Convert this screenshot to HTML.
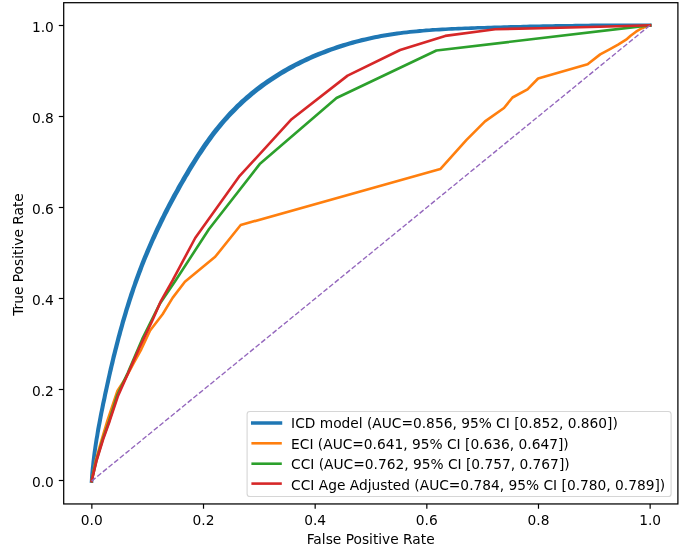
<!DOCTYPE html>
<html><head><meta charset="utf-8"><title>ROC curves</title>
<style>html,body{margin:0;padding:0;background:#fff;}body{width:679px;height:559px;overflow:hidden;}</style>
</head><body>
<svg width="679" height="559" viewBox="0 0 679 559" style="display:block">
<rect width="679" height="559" fill="#fff"/>
<g fill="none" stroke-linejoin="round" stroke-linecap="square" transform="translate(0.0,0.4)">
<polygon points="93.3,482.6 93.4,480.8 93.7,477.6 94.0,474.4 94.3,471.2 94.6,468.0 94.9,464.8 95.3,461.5 95.7,458.3 96.1,455.1 96.6,451.9 97.0,448.8 97.5,445.6 98.0,442.4 98.5,439.2 99.1,436.0 99.6,432.8 100.2,429.6 100.8,426.4 101.4,423.3 102.0,420.1 102.6,416.9 103.2,413.7 103.8,410.5 104.5,407.4 105.1,404.2 105.8,401.0 106.5,397.8 107.1,394.7 107.8,391.5 108.5,388.3 109.2,385.2 109.9,382.0 110.6,378.8 111.3,375.7 112.0,372.5 112.8,369.3 113.5,366.2 114.3,363.0 115.0,359.9 115.8,356.7 116.6,353.6 117.4,350.4 118.2,347.3 119.0,344.2 119.8,341.0 120.6,337.9 121.5,334.8 122.3,331.7 123.2,328.5 124.1,325.4 124.9,322.3 125.9,319.2 126.8,316.1 127.7,313.0 128.6,309.9 129.6,306.9 130.6,303.8 131.6,300.7 132.6,297.6 133.6,294.6 134.6,291.5 135.6,288.4 136.7,285.4 137.8,282.4 138.9,279.3 140.0,276.3 141.1,273.3 142.3,270.3 143.4,267.2 144.6,264.2 145.8,261.2 147.0,258.2 148.2,255.3 149.5,252.3 150.7,249.3 152.0,246.3 153.3,243.4 154.6,240.4 156.0,237.5 157.3,234.6 158.7,231.6 160.1,228.7 161.5,225.8 162.9,222.9 164.3,220.0 165.7,217.1 167.2,214.2 168.7,211.3 170.1,208.4 171.6,205.5 173.2,202.7 174.7,199.8 176.2,197.0 177.8,194.1 179.4,191.3 180.9,188.5 182.5,185.7 184.1,182.8 185.8,180.0 187.4,177.2 189.1,174.5 190.7,171.7 192.4,168.9 194.1,166.1 195.8,163.4 197.5,160.6 199.2,157.9 201.0,155.2 202.8,152.5 204.6,149.8 206.4,147.1 208.2,144.5 210.1,141.9 212.0,139.3 213.9,136.7 215.8,134.1 217.8,131.6 219.8,129.1 221.9,126.6 223.9,124.1 226.0,121.7 228.2,119.3 230.3,116.9 232.5,114.6 234.8,112.3 237.0,110.0 239.3,107.7 241.6,105.5 243.9,103.3 246.3,101.2 248.7,99.1 251.1,97.0 253.6,94.9 256.1,92.9 258.6,90.9 261.1,89.0 263.7,87.1 266.3,85.2 268.9,83.4 271.5,81.5 274.2,79.8 276.9,78.0 279.6,76.3 282.3,74.6 285.1,73.0 287.9,71.4 290.7,69.8 293.5,68.3 296.3,66.7 299.2,65.3 302.0,63.8 304.9,62.4 307.9,61.0 310.8,59.7 313.7,58.4 316.7,57.1 319.7,55.9 322.7,54.6 325.7,53.5 328.7,52.3 331.7,51.2 334.8,50.1 337.8,49.1 340.9,48.0 344.0,47.0 347.0,46.1 350.1,45.2 353.2,44.3 356.4,43.4 359.5,42.6 362.6,41.8 365.8,41.0 368.9,40.3 372.0,39.6 375.2,38.9 378.4,38.3 381.5,37.7 384.7,37.1 387.9,36.6 391.0,36.0 394.2,35.5 397.4,35.1 400.6,34.6 403.8,34.2 407.0,33.8 410.2,33.4 413.4,33.1 416.6,32.8 419.8,32.5 423.1,32.2 426.3,31.9 429.5,31.6 432.7,31.4 435.9,31.2 439.2,31.0 442.4,30.8 445.6,30.6 448.9,30.4 452.1,30.3 455.3,30.1 458.6,30.0 461.8,29.8 465.1,29.7 468.3,29.6 471.6,29.5 474.8,29.4 478.0,29.2 481.3,29.1 484.5,29.0 487.8,28.9 491.0,28.8 494.3,28.7 497.5,28.6 500.8,28.5 504.0,28.4 507.3,28.3 510.5,28.3 513.7,28.2 517.0,28.1 520.2,28.0 523.5,27.9 526.7,27.8 530.0,27.8 533.2,27.7 536.5,27.6 539.7,27.5 542.9,27.5 546.2,27.4 549.4,27.3 552.7,27.3 555.9,27.2 559.2,27.2 562.4,27.1 565.7,27.1 568.9,27.0 572.1,27.0 575.4,26.9 578.6,26.9 581.9,26.8 585.1,26.8 588.4,26.8 591.6,26.7 594.8,26.7 598.1,26.7 601.3,26.6 604.6,26.6 607.8,26.6 611.1,26.6 614.3,26.6 617.6,26.6 620.8,26.6 624.0,26.6 627.3,26.5 630.5,26.6 633.8,26.6 637.0,26.6 640.3,26.6 643.5,26.6 646.7,26.6 650.0,26.6 651.7,26.6 651.7,23.2 650.0,23.2 646.8,23.1 643.5,23.1 640.3,23.1 637.0,23.1 633.8,23.1 630.5,23.1 627.3,23.1 624.0,23.1 620.8,23.1 617.5,23.1 614.3,23.1 611.0,23.1 607.8,23.1 604.6,23.2 601.3,23.2 598.1,23.2 594.8,23.2 591.6,23.2 588.3,23.3 585.1,23.3 581.8,23.3 578.6,23.4 575.3,23.4 572.1,23.5 568.8,23.5 565.6,23.6 562.4,23.6 559.1,23.7 555.9,23.7 552.6,23.8 549.4,23.8 546.1,23.9 542.9,23.9 539.6,24.0 536.4,24.1 533.1,24.2 529.9,24.2 526.6,24.3 523.4,24.4 520.1,24.5 516.9,24.5 513.7,24.6 510.4,24.7 507.2,24.8 503.9,24.9 500.7,25.0 497.4,25.1 494.2,25.2 490.9,25.3 487.7,25.4 484.4,25.5 481.2,25.6 477.9,25.7 474.7,25.8 471.4,25.9 468.2,26.0 464.9,26.1 461.7,26.3 458.4,26.4 455.2,26.5 451.9,26.7 448.7,26.8 445.4,27.0 442.2,27.1 439.0,27.3 435.7,27.5 432.5,27.7 429.2,28.0 426.0,28.2 422.7,28.5 419.5,28.7 416.3,29.0 413.0,29.3 409.8,29.7 406.6,30.0 403.3,30.4 400.1,30.8 396.9,31.2 393.7,31.7 390.4,32.1 387.2,32.6 384.0,33.2 380.8,33.7 377.6,34.3 374.4,34.9 371.2,35.6 368.0,36.3 364.8,37.0 361.6,37.7 358.4,38.5 355.3,39.3 352.1,40.2 349.0,41.1 345.8,42.0 342.7,42.9 339.5,43.9 336.4,44.9 333.3,46.0 330.2,47.0 327.1,48.2 324.1,49.3 321.0,50.5 318.0,51.7 314.9,52.9 311.9,54.2 308.9,55.5 305.9,56.9 303.0,58.3 300.0,59.7 297.1,61.1 294.2,62.6 291.3,64.1 288.4,65.7 285.5,67.3 282.7,68.9 279.9,70.6 277.1,72.3 274.3,74.0 271.6,75.8 268.9,77.6 266.2,79.4 263.5,81.3 260.8,83.2 258.2,85.1 255.6,87.1 253.1,89.1 250.5,91.2 248.0,93.3 245.5,95.4 243.1,97.6 240.6,99.7 238.2,102.0 235.9,104.2 233.6,106.5 231.3,108.9 229.0,111.2 226.8,113.6 224.6,116.1 222.4,118.5 220.2,121.0 218.1,123.5 216.1,126.0 214.0,128.6 212.0,131.2 210.0,133.8 208.1,136.4 206.2,139.1 204.3,141.7 202.4,144.4 200.6,147.1 198.8,149.9 197.0,152.6 195.2,155.3 193.5,158.1 191.8,160.9 190.0,163.6 188.3,166.4 186.7,169.2 185.0,172.0 183.3,174.9 181.7,177.7 180.1,180.5 178.4,183.3 176.8,186.2 175.3,189.0 173.7,191.9 172.1,194.7 170.6,197.6 169.0,200.5 167.5,203.4 166.0,206.3 164.5,209.2 163.0,212.1 161.6,215.0 160.1,217.9 158.7,220.9 157.3,223.8 155.9,226.7 154.5,229.7 153.2,232.6 151.8,235.6 150.5,238.6 149.2,241.6 147.9,244.5 146.6,247.5 145.3,250.5 144.1,253.5 142.8,256.6 141.6,259.6 140.4,262.6 139.3,265.6 138.1,268.7 137.0,271.7 135.8,274.8 134.7,277.8 133.6,280.9 132.6,284.0 131.5,287.0 130.5,290.1 129.4,293.2 128.4,296.3 127.4,299.4 126.4,302.5 125.5,305.6 124.5,308.7 123.6,311.8 122.7,314.9 121.7,318.0 120.8,321.1 120.0,324.3 119.1,327.4 118.2,330.5 117.4,333.7 116.5,336.8 115.7,340.0 114.9,343.1 114.1,346.3 113.3,349.4 112.5,352.6 111.7,355.7 111.0,358.9 110.2,362.1 109.5,365.2 108.7,368.4 108.0,371.6 107.3,374.8 106.6,377.9 105.9,381.1 105.2,384.3 104.5,387.5 103.8,390.6 103.1,393.8 102.5,397.0 101.8,400.2 101.1,403.4 100.5,406.6 99.9,409.7 99.2,412.9 98.6,416.1 98.0,419.3 97.4,422.5 96.8,425.7 96.2,428.9 95.7,432.1 95.2,435.3 94.6,438.5 94.1,441.8 93.6,445.0 93.2,448.2 92.7,451.4 92.3,454.6 91.9,457.9 91.5,461.1 91.2,464.3 90.8,467.6 90.5,470.8 90.2,474.1 90.0,477.3 89.8,480.6 89.6,482.3" fill="#1f77b4" stroke="none"/>
<polyline points="91.6,480.7 95.8,460.0 101.5,440.0 107.5,420.0 117.5,390.2 125.0,378.9 133.8,362.6 141.3,348.9 150.1,330.1 162.6,313.8 172.6,297.5 184.9,281.3 215.2,256.4 240.7,224.6 440.3,168.7 466.3,139.7 485.0,121.0 504.0,107.6 512.5,97.1 527.5,88.9 538.1,78.1 587.6,63.8 600.2,54.0 609.1,49.3 618.1,44.3 626.1,39.3 630.6,35.3 636.0,31.3 641.3,28.1 646.7,25.9 650.0,24.9" stroke="#ff7f0e" stroke-width="2.6"/>
<polyline points="91.6,480.7 96.4,460.0 102.8,438.7 109.1,420.8 117.1,395.2 127.7,372.6 142.2,338.8 160.0,303.0 175.6,280.0 208.9,228.9 259.7,163.7 336.5,97.6 436.4,50.1 650.0,24.9" stroke="#2ca02c" stroke-width="2.6"/>
<polyline points="91.6,480.7 96.6,460.1 103.2,438.7 109.6,420.8 118.1,395.2 128.2,372.6 139.3,347.6 151.8,321.3 160.6,301.3 172.6,280.0 195.2,237.6 239.0,176.3 291.6,118.8 347.6,75.2 400.1,49.6 445.2,35.5 495.2,28.8 540.0,27.8 600.0,26.3 650.0,24.9" stroke="#d62728" stroke-width="2.6"/>
<line x1="91.6" y1="480.7" x2="650.0" y2="24.9" stroke="#9467bd" stroke-width="1.38" stroke-dasharray="5.10 2.20" stroke-linecap="butt"/>
</g>
<rect x="63.7" y="2.7" width="614.1999999999999" height="501.25" fill="none" stroke="#000" stroke-width="1.25"/>
<g stroke="#000" stroke-width="1.2">
<line x1="91.85" y1="503.95" x2="91.85" y2="508.75"/>
<line x1="63.7" y1="480.5" x2="58.80" y2="480.5"/>
<line x1="203.51" y1="503.95" x2="203.51" y2="508.75"/>
<line x1="63.7" y1="389.5" x2="58.80" y2="389.5"/>
<line x1="315.17" y1="503.95" x2="315.17" y2="508.75"/>
<line x1="63.7" y1="298.5" x2="58.80" y2="298.5"/>
<line x1="426.83" y1="503.95" x2="426.83" y2="508.75"/>
<line x1="63.7" y1="207.5" x2="58.80" y2="207.5"/>
<line x1="538.49" y1="503.95" x2="538.49" y2="508.75"/>
<line x1="63.7" y1="116.5" x2="58.80" y2="116.5"/>
<line x1="650.15" y1="503.95" x2="650.15" y2="508.75"/>
<line x1="63.7" y1="25.5" x2="58.80" y2="25.5"/>
</g>
<g font-family="'DejaVu Sans', 'Liberation Sans', sans-serif" font-size="13.78px" fill="#000">
<text x="91.8" y="524.75" text-anchor="middle">0.0</text>
<text x="53.8" y="486.8" text-anchor="end">0.0</text>
<text x="203.5" y="524.75" text-anchor="middle">0.2</text>
<text x="53.8" y="395.8" text-anchor="end">0.2</text>
<text x="315.2" y="524.75" text-anchor="middle">0.4</text>
<text x="53.8" y="304.8" text-anchor="end">0.4</text>
<text x="426.8" y="524.75" text-anchor="middle">0.6</text>
<text x="53.8" y="213.8" text-anchor="end">0.6</text>
<text x="538.5" y="524.75" text-anchor="middle">0.8</text>
<text x="53.8" y="122.8" text-anchor="end">0.8</text>
<text x="650.1" y="524.75" text-anchor="middle">1.0</text>
<text x="53.8" y="31.8" text-anchor="end">1.0</text>
<text x="370.7" y="543.7" text-anchor="middle">False Positive Rate</text>
<text transform="translate(23.4,254.5) rotate(-90)" text-anchor="middle">True Positive Rate</text>
</g>
<rect x="247.1" y="411.5" width="424.0" height="85.0" rx="2.8" ry="2.8" fill="#fff" fill-opacity="0.8" stroke="#ccc" stroke-opacity="0.8" stroke-width="1.11"/>
<g font-family="'DejaVu Sans', 'Liberation Sans', sans-serif" font-size="13.78px" fill="#000">
<line x1="252.7" y1="422.9" x2="280.5" y2="422.9" stroke="#1f77b4" stroke-width="3.47" stroke-linecap="square"/>
<text x="291.1" y="428.4">ICD model (AUC=0.856, 95% CI [0.852, 0.860])</text>
<line x1="252.7" y1="443.3" x2="280.5" y2="443.3" stroke="#ff7f0e" stroke-width="2.6" stroke-linecap="square"/>
<text x="291.1" y="448.8">ECI (AUC=0.641, 95% CI [0.636, 0.647])</text>
<line x1="252.7" y1="463.7" x2="280.5" y2="463.7" stroke="#2ca02c" stroke-width="2.6" stroke-linecap="square"/>
<text x="291.1" y="469.2">CCI (AUC=0.762, 95% CI [0.757, 0.767])</text>
<line x1="252.7" y1="483.6" x2="280.5" y2="483.6" stroke="#d62728" stroke-width="2.6" stroke-linecap="square"/>
<text x="291.1" y="489.5">CCI Age Adjusted (AUC=0.784, 95% CI [0.780, 0.789])</text>
</g>
</svg>
</body></html>
